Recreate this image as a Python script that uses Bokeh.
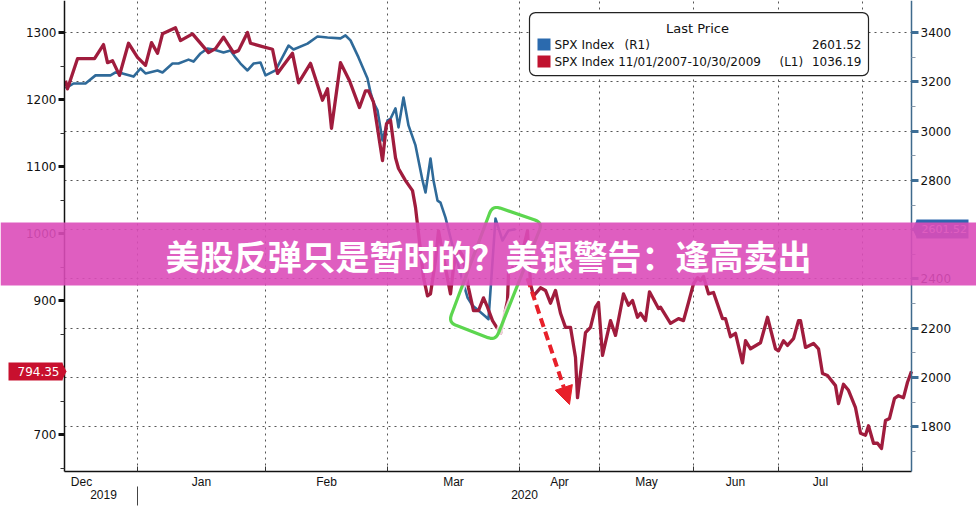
import math
from bokeh.plotting import figure
from bokeh.models import (Range1d, LinearAxis, FixedTicker, BoxAnnotation, Label,
                          PolyAnnotation, Arrow, NormalHead, Grid)
from bokeh.embed import file_html
from bokeh.resources import INLINE

# ---------------- data ----------------
# x: session offset along the shared time axis
red_x = [1, 3, 13, 30, 39, 43, 48, 55, 64, 73,
         81, 87, 93, 98, 111, 116, 128, 144, 151, 159,
         169, 174, 183, 186, 198, 208, 213, 219, 228, 234,
         246, 258, 263, 267, 276, 285, 295, 301, 304, 309,
         318, 322, 326, 331, 334, 341, 348, 351, 356, 359,
         363, 366, 371, 374, 378, 386, 389, 393, 398, 401,
         404, 409, 414, 419, 423, 428, 436, 443, 444, 448,
         451, 459, 463, 466, 469, 476, 481, 486, 491, 496,
         501, 506, 511, 513, 521, 526, 531, 534, 538, 546,
         551, 559, 564, 568, 573, 576, 581, 585, 594, 596,
         606, 614, 619, 624, 629, 633, 636, 639, 644, 649,
         658, 661, 666, 671, 678, 681, 686, 696, 703, 711,
         714, 719, 723, 729, 734, 736, 741, 749, 754, 758,
         763, 771, 774, 779, 784, 791, 796, 801, 804, 809,
         813, 817, 821, 825, 830, 834, 839, 843, 847]
# SPX Index 11/01/2007-10/30/2009 (left axis)
red_close = [1228, 1216, 1261, 1261, 1282, 1255, 1258, 1236, 1284, 1263,
             1251, 1285, 1269, 1298, 1307, 1288, 1298, 1270, 1276, 1293,
             1270, 1273, 1300, 1284, 1279, 1275, 1239, 1251, 1269, 1225,
             1254, 1199, 1216, 1157, 1255, 1228, 1188, 1213, 1213, 1196,
             1109, 1164, 1169, 1113, 1097, 1079, 1064, 1039, 975, 934,
             907, 910, 960, 1004, 972, 910, 949, 979, 967, 945,
             919, 885, 885, 904, 890, 870, 851, 900, 940, 949,
             945, 979, 1004, 925, 907, 919, 915, 896, 915, 881,
             860, 860, 815, 755, 852, 860, 890, 897, 818, 870,
             848, 910, 893, 900, 875, 881, 870, 913, 888, 890,
             866, 873, 870, 897, 925, 934, 930, 936, 910, 912,
             873, 873, 846, 851, 807, 840, 828, 837, 875, 828,
             825, 840, 833, 843, 870, 870, 830, 836, 828, 791,
             788, 773, 746, 775, 766, 740, 702, 699, 713, 687,
             687, 679, 721, 724, 754, 758, 755, 778, 794.35]

blue_x = [1, 9, 21, 31, 46, 51, 58, 69, 76, 81,
          93, 98, 108, 114, 124, 129, 136, 143, 149, 159,
          166, 171, 176, 183, 189, 196, 201, 211, 224, 229,
          243, 253, 263, 276, 281, 286, 294, 303, 306, 309,
          313, 318, 323, 326, 331, 334, 339, 344, 351, 358,
          361, 366, 369, 373, 376, 381, 388, 393, 398, 403,
          408, 414, 421, 424, 431, 438, 444, 451]
# SPX Index current (right axis)
blue_close = [3173, 3193, 3193, 3226, 3226, 3238, 3234, 3221, 3254, 3234,
              3246, 3238, 3274, 3274, 3290, 3282, 3315, 3335, 3331, 3319,
              3327, 3299, 3274, 3246, 3274, 3278, 3226, 3246, 3347, 3331,
              3355, 3384, 3380, 3376, 3388, 3368, 3299, 3213, 3157, 3116,
              3084, 2962, 3043, 3050, 3092, 3015, 3136, 3023, 2942, 2800,
              2751, 2889, 2800, 2718, 2710, 2649, 2536, 2467, 2394, 2325,
              2292, 2272, 2248, 2237, 2645, 2556, 2597, 2601.52]

month_labels = ["Dec", "Jan", "Feb", "Mar", "Apr", "May", "Jun", "Jul"]
month_label_pos = [17, 137, 262, 389, 495, 582, 671, 756]
month_bounds = [73, 201, 323, 455, 535, 629, 714, 798]
year_labels = ["2019", "2020"]
year_label_pos = [39, 460]
year_bound = [73]

left_ticks = [700, 800, 900, 1000, 1100, 1200, 1300]
left_minor = [650, 750, 850, 950, 1050, 1150, 1250]
right_ticks = [1800, 2000, 2200, 2400, 2600, 2800, 3000, 3200, 3400]
right_minor = [1700, 1900, 2100, 2300, 2500, 2700, 2900, 3100, 3300]

legend_title = "Last Price"
legend_names = ["SPX Index", "SPX Index 11/01/2007-10/30/2009"]
legend_axes = ["(R1)", "(L1)"]
legend_last = ["2601.52", "1036.19"]
red_tag = "794.35"
blue_tag = "2601.52"
headline = "美股反弹只是暂时的？美银警告：逢高卖出"

# ---------------- layout of the axes (data units) ----------------
X0, X1 = 0, 847                 # plotted session span
L0, L1 = 644.8, 1347.8          # left-axis span
R0, R1 = 1618.9, 3529.8         # right-axis span

RED = "#a01c3d"
BLUE = "#2f6a99"
FONT = "DejaVu Sans"
XFONT = "Liberation Sans"

# the frame covers the whole canvas; axes are pinned with fixed_location
p = figure(width=976, height=509, output_backend="svg", toolbar_location=None,
           x_axis_type=None, y_axis_type=None,
           x_range=Range1d(-64, 912), y_range=Range1d(588.1, 1347.8),
           min_border=0, background_fill_color="white",
           border_fill_color="white", outline_line_color=None)
p.extra_y_ranges = {"blue": Range1d(1464.8, 3529.8)}

# left axis
la = LinearAxis(fixed_location=X0, bounds=(L0, L1),
                ticker=FixedTicker(ticks=left_ticks, minor_ticks=left_minor))
la.major_label_overrides = {800: ""}
la.axis_line_color = "#111111"
la.axis_line_width = 1.5
la.major_tick_out = 6
la.major_tick_in = 0
la.major_tick_line_width = 3
la.major_tick_line_color = "#111111"
la.minor_tick_out = 4
la.minor_tick_in = 0
la.minor_tick_line_color = "#333333"
la.major_label_standoff = 2
la.major_label_text_font = FONT
la.major_label_text_font_size = "12px"
la.major_label_text_color = "#111111"
p.add_layout(la, "left")

# right axis
ra = LinearAxis(y_range_name="blue", fixed_location=X1, bounds=(R0, R1),
                ticker=FixedTicker(ticks=right_ticks, minor_ticks=right_minor))
ra.major_label_overrides = {2600: ""}
ra.axis_line_color = "#3f6a8c"
ra.axis_line_width = 1.5
ra.major_tick_out = 7
ra.major_tick_in = 0
ra.major_tick_line_width = 3
ra.major_tick_line_color = "#3d6e96"
ra.minor_tick_out = 4
ra.minor_tick_in = 0
ra.minor_tick_line_color = "#8899aa"
ra.major_label_standoff = 2
ra.major_label_text_font = FONT
ra.major_label_text_font_size = "12px"
ra.major_label_text_color = "#111111"
p.add_layout(ra, "right")

# bottom: months
xa = LinearAxis(fixed_location=L0, bounds=(X0, X1),
                ticker=FixedTicker(ticks=month_label_pos, minor_ticks=month_bounds))
xa.major_label_overrides = {v: t for v, t in zip(month_label_pos, month_labels)}
xa.axis_line_color = "#111111"
xa.axis_line_width = 1.5
xa.major_tick_out = 0
xa.major_tick_in = 0
xa.major_tick_line_color = None
xa.minor_tick_in = 5
xa.minor_tick_out = 0
xa.minor_tick_line_color = "#333333"
xa.major_label_standoff = 3
xa.major_label_text_font = XFONT
xa.major_label_text_font_size = "12px"
xa.major_label_text_color = "#111111"
p.add_layout(xa, "below")

# bottom: year separator and years
sep = LinearAxis(fixed_location=622.4, ticker=FixedTicker(ticks=year_bound, minor_ticks=[]))
sep.major_label_overrides = {year_bound[0]: ""}
sep.axis_line_color = None
sep.major_tick_out = 19
sep.major_tick_in = 0
sep.major_tick_line_color = "#444444"
sep.major_tick_line_width = 1
sep.minor_tick_line_color = None
p.add_layout(sep, "below")

ya = LinearAxis(fixed_location=618.0,
                ticker=FixedTicker(ticks=year_label_pos, minor_ticks=[]))
ya.major_label_overrides = {v: t for v, t in zip(year_label_pos, year_labels)}
ya.axis_line_color = None
ya.major_tick_line_color = None
ya.minor_tick_line_color = None
ya.major_tick_out = 0
ya.major_tick_in = 0
ya.major_label_standoff = 1
ya.major_label_text_font = XFONT
ya.major_label_text_font_size = "12px"
ya.major_label_text_color = "#111111"
p.add_layout(ya, "below")

# grids (restricted to the plotting area)
has_cross = "cross_bounds" in Grid.properties()
xg = Grid(dimension=0, ticker=FixedTicker(ticks=month_bounds),
          grid_line_color="#555555", grid_line_dash="2 4", grid_line_width=1)
yg = Grid(dimension=1, y_range_name="blue", ticker=FixedTicker(ticks=right_ticks),
          grid_line_color="#555555", grid_line_dash="2 4", grid_line_width=1)
if has_cross:
    xg.cross_bounds = (L0, L1)
    yg.cross_bounds = (X0, X1)
    p.add_layout(xg, "center")
    p.add_layout(yg, "center")
else:
    p.segment(x0=month_bounds, x1=month_bounds, y0=[L0] * len(month_bounds),
              y1=[L1] * len(month_bounds), line_color="#555555", line_dash="2 4")
    p.segment(x0=[X0] * len(right_ticks), x1=[X1] * len(right_ticks), y0=right_ticks,
              y1=right_ticks, y_range_name="blue", line_color="#555555",
              line_dash="2 4")

# series
p.line(blue_x, blue_close, y_range_name="blue", line_color=BLUE, line_width=2.6,
       line_join="round")
p.line(red_x, red_close, line_color=RED, line_width=3.3, line_join="round")

# last-price tags in the margins (box + pointer + text)
TAG_RED = "#c8102e"
TAG_BLUE = "#2e68ae"
p.add_layout(BoxAnnotation(left=-56, right=-2, top=807.5, bottom=780.6,
                           fill_color=TAG_RED, fill_alpha=1, line_color=None))
p.add_layout(PolyAnnotation(xs=[-2.5, 2, -2.5], ys=[807.5, 794.0, 780.6],
                            fill_color=TAG_RED, fill_alpha=1, line_color=None))
p.add_layout(Label(x=-47, y=794.35, text=red_tag, text_align="left",
                   text_baseline="middle", text_color="white", text_font=FONT,
                   text_font_size="12px"))
p.add_layout(BoxAnnotation(left=852, right=904, top=1020.9, bottom=992.5,
                           fill_color=TAG_BLUE, fill_alpha=1, line_color=None))
p.add_layout(PolyAnnotation(xs=[852.5, 848, 852.5], ys=[1020.9, 1006.7, 992.5],
                            fill_color=TAG_BLUE, fill_alpha=1, line_color=None))
p.add_layout(Label(x=857, y=2601.52, y_range_name="blue", text=blue_tag,
                   text_align="left", text_baseline="middle", text_color="white",
                   text_font=FONT, text_font_size="11px"))

# legend box
p.add_layout(BoxAnnotation(left=465, right=804, top=1329.85, bottom=1235.8,
                           fill_color="white", fill_alpha=1, line_color="#222222",
                           line_alpha=1, line_width=1.2, border_radius=6))
p.add_layout(Label(x=633, y=1306.0, text=legend_title, text_align="center",
                   text_baseline="middle", text_font=FONT, text_font_size="13px",
                   text_color="#111111"))
sq_colors = ["#2b6aae", "#c0122f"]
row_y = [1282.1, 1256.7]
sq_top = [1291.0, 1265.7]
sq_bot = [1273.1, 1247.8]
axis_x = [560, 715]
for i in range(2):
    p.add_layout(BoxAnnotation(left=473, right=486, top=sq_top[i], bottom=sq_bot[i],
                               fill_color=sq_colors[i], fill_alpha=1, line_color=None))
    p.add_layout(Label(x=490, y=row_y[i], text=legend_names[i], text_align="left",
                       text_baseline="middle", text_font=FONT, text_font_size="12px",
                       text_color="#111111"))
    p.add_layout(Label(x=axis_x[i], y=row_y[i], text=legend_axes[i], text_align="left",
                       text_baseline="middle", text_font=FONT, text_font_size="12px",
                       text_color="#111111"))
    p.add_layout(Label(x=797, y=row_y[i], text=legend_last[i], text_align="right",
                       text_baseline="middle", text_font=FONT, text_font_size="12px",
                       text_color="#111111"))

# green highlight box with rounded corners
corners = [(428, 1041.8), (478, 1016.4), (431, 840.3), (384, 867.2)]
YS = 0.67   # px per left-axis unit, to round corners evenly
R = 8.0
gx, gy = [], []
n = len(corners)
for k in range(n):
    cx, cy = corners[k][0], corners[k][1] * YS
    ax_, ay_ = corners[k - 1][0], corners[k - 1][1] * YS
    bx_, by_ = corners[(k + 1) % n][0], corners[(k + 1) % n][1] * YS
    da = math.hypot(ax_ - cx, ay_ - cy)
    db = math.hypot(bx_ - cx, by_ - cy)
    p1 = (cx + (ax_ - cx) * R / da, cy + (ay_ - cy) * R / da)
    p2 = (cx + (bx_ - cx) * R / db, cy + (by_ - cy) * R / db)
    for t in [i / 6 for i in range(7)]:
        qx = (1 - t) ** 2 * p1[0] + 2 * (1 - t) * t * cx + t ** 2 * p2[0]
        qy = (1 - t) ** 2 * p1[1] + 2 * (1 - t) * t * cy + t ** 2 * p2[1]
        gx.append(qx)
        gy.append(qy / YS)
p.add_layout(PolyAnnotation(xs=gx, ys=gy, fill_alpha=0, line_color="white",
                            line_alpha=0.8, line_width=7))
p.add_layout(PolyAnnotation(xs=gx, ys=gy, fill_alpha=0, line_color="#5cd64f",
                            line_alpha=1, line_width=3.2))

# red dashed arrow
p.add_layout(Arrow(end=NormalHead(size=18, fill_color="#e8202a", line_color="#e8202a"),
                   x_start=463, y_start=933.0, x_end=505, y_end=744.8,
                   line_color="#e8202a", line_width=4, line_dash="9 5"))

# headline banner across the full width
p.add_layout(BoxAnnotation(top=1016.4, bottom=922.4,
                           fill_color="#db4db9", fill_alpha=0.9, line_color=None))
p.add_layout(Label(x=424, y=967.2, text=headline, text_align="center",
                   text_baseline="middle", text_color="white",
                   text_font="Noto Sans CJK SC", text_font_style="bold",
                   text_font_size="34px"))

open("out.html", "w").write(file_html(p, INLINE))
